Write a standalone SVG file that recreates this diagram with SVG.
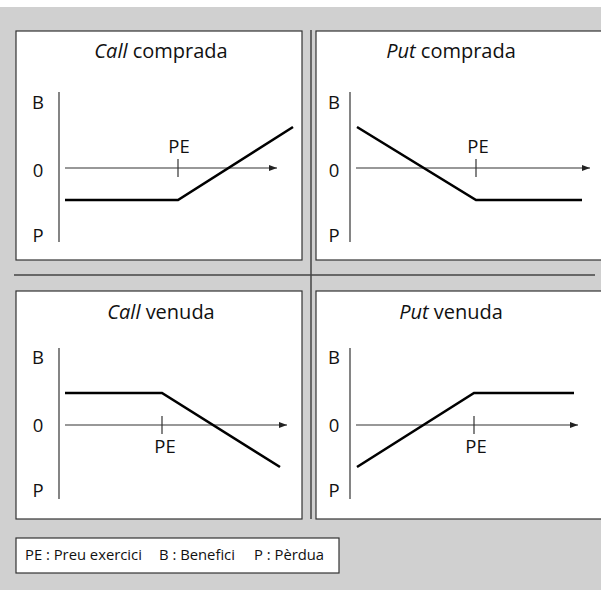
<svg xmlns="http://www.w3.org/2000/svg" width="601" height="590" viewBox="0 0 601 590">
<defs>
<marker id="arr" viewBox="0 0 8 6" refX="8" refY="3" markerWidth="8" markerHeight="6" markerUnits="userSpaceOnUse" orient="auto"><path d="M0,0 L8,3 L0,6 Z" fill="#222"/></marker>
</defs>
<style>
.panel{fill:#fff;stroke:#333;stroke-width:1.2}
.axis{stroke:#333;stroke-width:1.2;fill:none}
.pay{stroke:#000;stroke-width:2.6;fill:none;stroke-linejoin:miter}
.sep{stroke:#444;stroke-width:1.5}
text{font-family:"Open Sans","Noto Sans",sans-serif;fill:#111}
.t{font-size:20px;text-anchor:middle}
.l{font-size:18.5px;text-anchor:middle}
.g{font-size:14.8px}
</style>
<rect x="0" y="7" width="601" height="583" fill="#d0d0d0"/>
<g id="separators">
<line class="sep" x1="14" y1="275" x2="595" y2="275"/>
<line class="sep" x1="311" y1="30" x2="311" y2="519"/>
</g>
<g id="call-comprada">
<rect class="panel" x="16" y="31" width="286" height="229"/>
<text class="t" x="161" y="58"><tspan font-style="italic">Call</tspan> comprada</text>
<text class="l" x="38" y="109">B</text>
<text class="l" x="38" y="177">0</text>
<text class="l" x="38" y="242">P</text>
<text class="l" x="179" y="153">PE</text>
<line class="axis" x1="59" y1="92" x2="59" y2="242"/>
<line class="axis" x1="178" y1="159" x2="178" y2="177"/>
</g>
<g id="put-comprada">
<rect class="panel" x="316" y="31" width="290" height="229"/>
<text class="t" x="451" y="58"><tspan font-style="italic">Put</tspan> comprada</text>
<text class="l" x="334" y="109">B</text>
<text class="l" x="334" y="177">0</text>
<text class="l" x="334" y="242">P</text>
<text class="l" x="478" y="153">PE</text>
<line class="axis" x1="350" y1="92" x2="350" y2="242"/>
<line class="axis" x1="476" y1="159" x2="476" y2="177"/>
</g>
<g id="call-venuda">
<rect class="panel" x="16" y="291" width="286" height="228"/>
<text class="t" x="161" y="319"><tspan font-style="italic">Call</tspan> venuda</text>
<text class="l" x="38" y="364">B</text>
<text class="l" x="38" y="432">0</text>
<text class="l" x="38" y="497">P</text>
<text class="l" x="165" y="453">PE</text>
<line class="axis" x1="59" y1="348" x2="59" y2="499"/>
<line class="axis" x1="162" y1="416" x2="162" y2="434"/>
</g>
<g id="put-venuda">
<rect class="panel" x="316" y="291" width="290" height="228"/>
<text class="t" x="451" y="319"><tspan font-style="italic">Put</tspan> venuda</text>
<text class="l" x="334" y="364">B</text>
<text class="l" x="334" y="432">0</text>
<text class="l" x="334" y="497">P</text>
<text class="l" x="476" y="453">PE</text>
<line class="axis" x1="350" y1="348" x2="350" y2="499"/>
<line class="axis" x1="474" y1="416" x2="474" y2="434"/>
</g>
<g id="legend">
<rect class="panel" x="16" y="538" width="323" height="35"/>
<text class="g" x="25" y="560">PE : Preu exercici</text>
<text class="g" x="159" y="560">B : Benefici</text>
<text class="g" x="254" y="560">P : Pèrdua</text>
</g>
<g id="connectors">
<line class="axis" x1="65" y1="168" x2="277" y2="168" marker-end="url(#arr)"/>
<polyline class="pay" points="65,200 178,200 293,127"/>
<line class="axis" x1="356" y1="168" x2="590" y2="168" marker-end="url(#arr)"/>
<polyline class="pay" points="357,127 476,200 582,200"/>
<line class="axis" x1="65" y1="425" x2="287" y2="425" marker-end="url(#arr)"/>
<polyline class="pay" points="65,393 162,393 280,467"/>
<line class="axis" x1="356" y1="425" x2="578" y2="425" marker-end="url(#arr)"/>
<polyline class="pay" points="357,467 474,393 574,393"/>
</g>
</svg>
